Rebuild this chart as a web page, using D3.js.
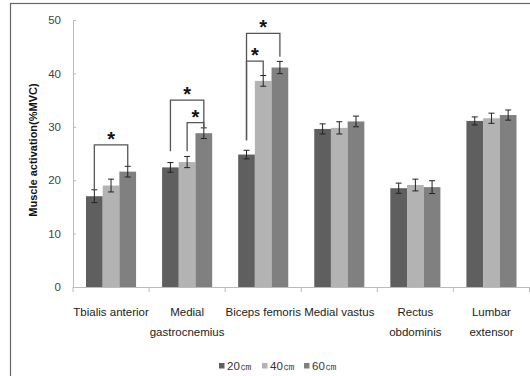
<!DOCTYPE html>
<html><head><meta charset="utf-8">
<script src="https://cdn.jsdelivr.net/npm/d3@7/dist/d3.min.js"></script>
<style>body{margin:0;background:#fff}svg{display:block}text{font-family:"Liberation Sans",Arial,sans-serif}</style>
</head><body>
<svg id="c" width="530" height="376"></svg>
<script>
const categories = ["Tbialis anterior", "Medial\ngastrocnemius", "Biceps femoris", "Medial vastus", "Rectus\nobdominis", "Lumbar\nextensor"];
const seriesNames = ["20㎝", "40㎝", "60㎝"];
const colors = ["#5f5f5f", "#b3b3b3", "#808080"];
const values20 = [17.0, 22.4, 24.8, 29.6, 18.5, 31.1];
const values40 = [19.0, 23.4, 38.6, 29.8, 19.1, 31.6];
const values60 = [21.6, 28.8, 41.1, 31.0, 18.7, 32.2];
const err20 = [1.2, 0.9, 0.8, 0.95, 0.95, 0.75];
const err40 = [1.2, 1.05, 1.0, 1.15, 1.1, 0.95];
const err60 = [1.0, 1.0, 1.15, 1.0, 1.2, 0.95];
const yTicks = [0, 10, 20, 30, 40, 50];
// brackets: [category, fromSeries, toSeries, level, leftEnd, rightEnd]
const brackets = [
  [0, 0, 2, 26.6, 18.2, 22.6],
  [1, 0, 2, 35.0, 25.4, 29.8],
  [1, 1, 2, 30.8, 25.4, 29.8],
  [2, 0, 2, 47.5, 27.5, 43.1],
  [2, 0, 1, 42.3, 27.5, 39.7]
];

const values = [values20, values40, values60];
const errs = [err20, err40, err60];
const svg = d3.select("#c");

// frame
svg.append("rect").attr("x", 10.5).attr("y", 3.5).attr("width", 540).attr("height", 400)
  .attr("fill", "none").attr("stroke", "#666").attr("stroke-width", 1.2);

const x0 = 73, x1 = 529.5, yBot = 287, yTop = 20;
const x = d3.scaleBand().domain(categories).range([x0, x1]).padding(0);
const xs = d3.scaleBand().domain(d3.range(3)).range([13, x.bandwidth() - 13]).padding(0);
const y = d3.scaleLinear().domain([0, 50]).range([yBot, yTop]);

// y axis
const yAxis = d3.axisLeft(y).tickValues(yTicks).tickSize(-3).tickPadding(12).tickFormat(d3.format("d"));
const gy = svg.append("g").attr("transform", `translate(${x0},0)`).call(yAxis);
gy.select(".domain").attr("stroke", "#bbb");
gy.selectAll(".tick line").attr("stroke", "#bbb");
gy.selectAll(".tick text").attr("fill", "#444").attr("font-size", 11.5);

// x axis
const xAxis = d3.axisBottom(x).tickSize(0).tickFormat("");
const gx = svg.append("g").attr("transform", `translate(0,${yBot})`).call(xAxis);
gx.select(".domain").attr("stroke", "#bbb");
const bounds = categories.map(c => x(c)).concat([x1]);
gx.selectAll(".bnd").data(bounds).join("line").attr("class", "bnd")
  .attr("x1", d => d).attr("x2", d => d).attr("y1", 0).attr("y2", 5).attr("stroke", "#bbb");

// x labels
const lab = svg.append("g");
categories.forEach(c => {
  const lines = c.split("\n");
  const t = lab.append("text").attr("text-anchor", "middle").attr("font-size", 11.5).attr("fill", "#222")
    .attr("x", x(c) + x.bandwidth() / 2).attr("y", 316);
  lines.forEach((l, i) => t.append("tspan").attr("x", x(c) + x.bandwidth() / 2).attr("dy", i ? 20 : 0).text(l));
});

// bars
const groups = svg.append("g").selectAll("g").data(categories).join("g")
  .attr("transform", d => `translate(${x(d)},0)`);
groups.selectAll("rect").data((d, i) => d3.range(3).map(s => ({ s, v: values[s][i], e: errs[s][i] })))
  .join("rect")
  .attr("x", d => xs(d.s)).attr("width", xs.bandwidth())
  .attr("y", d => y(d.v)).attr("height", d => yBot - y(d.v))
  .attr("fill", d => colors[d.s]);

// error bars
const eb = groups.selectAll("g.eb").data((d, i) => d3.range(3).map(s => ({ s, v: values[s][i], e: errs[s][i] })))
  .join("g").attr("class", "eb");
eb.each(function (d) {
  const g = d3.select(this);
  const cx = xs(d.s) + xs.bandwidth() / 2;
  g.append("line").attr("x1", cx).attr("x2", cx).attr("y1", y(d.v + d.e)).attr("y2", y(d.v - d.e));
  g.append("line").attr("x1", cx - 3).attr("x2", cx + 3).attr("y1", y(d.v + d.e)).attr("y2", y(d.v + d.e));
  g.append("line").attr("x1", cx - 3).attr("x2", cx + 3).attr("y1", y(d.v - d.e)).attr("y2", y(d.v - d.e));
  g.selectAll("line").attr("stroke", "#222").attr("stroke-width", 1);
});

// significance brackets
const bg = svg.append("g");
brackets.forEach(([c, a, b, lvl, le, re]) => {
  const cat = categories[c];
  const xa = x(cat) + xs(a) + xs.bandwidth() / 2;
  const xb = x(cat) + xs(b) + xs.bandwidth() / 2;
  bg.append("path")
    .attr("d", `M${xa},${y(le)}V${y(lvl)}H${xb}V${y(re)}`)
    .attr("fill", "none").attr("stroke", "#555").attr("stroke-width", 1.3);
  bg.append("text").attr("x", (xa + xb) / 2).attr("y", y(lvl) + 1)
    .attr("text-anchor", "middle").attr("font-size", 20).attr("font-weight", "bold").attr("fill", "#111").text("*");
});

// y title
svg.append("text").attr("transform", "translate(37,150) rotate(-90)").attr("text-anchor", "middle")
  .attr("font-size", 11).attr("font-weight", "bold").attr("fill", "#111").text("Muscle activation(%MVC)");

// legend
const lg = svg.append("g");
const legX = [219, 262, 304];
seriesNames.forEach((n, i) => {
  lg.append("rect").attr("x", legX[i]).attr("y", 363).attr("width", 5.5).attr("height", 5.5).attr("fill", colors[i]);
  lg.append("text").attr("x", legX[i] + 8).attr("y", 370).attr("font-size", 11.5).attr("fill", "#333")
    .attr("font-family", "'Noto Sans CJK KR', sans-serif").text(n);
});
</script>
</body></html>
